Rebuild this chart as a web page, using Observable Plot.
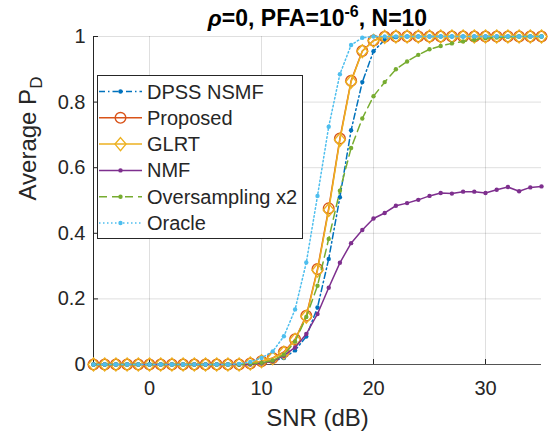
<!DOCTYPE html>
<html><head><meta charset="utf-8">
<script src="https://cdn.jsdelivr.net/npm/d3@7"></script>
<script src="https://cdn.jsdelivr.net/npm/@observablehq/plot@0.6"></script>
<style>html,body{margin:0;padding:0;background:#fff} svg{display:block}</style>
</head><body><div id="chart"></div>
<script>
// ---------- data ----------
const snr = [-5,-4,-3,-2,-1,0,1,2,3,4,5,6,7,8,9,10,11,12,13,14,15,16,17,18,19,20,21,22,23,24,25,26,27,28,29,30,31,32,33,34,35];
const dpssNsmf = [0,0,0,0,0,0,0,0,0,0,0,0,0,0, 0.001,0.004,0.01,0.02,0.043,0.085,0.174,0.322,0.51,0.714,0.861,0.955,0.99,0.998, 1,1,1,1,1,1,1,1,1,1,1,1,1];
const proposed = [0,0,0,0,0,0,0,0,0,0,0,0,0,0, 0.003,0.01,0.02,0.038,0.077,0.149,0.291,0.476,0.689,0.865,0.956,0.988,0.999, 1,1,1,1,1,1,1,1,1,1,1,1,1,1];
const glrt = [0,0,0,0,0,0,0,0,0,0,0,0,0,0, 0.003,0.01,0.019,0.036,0.075,0.146,0.287,0.471,0.685,0.862,0.955,0.987,0.999, 1,1,1,1,1,1,1,1,1,1,1,1,1,1];
const nmf = [0,0,0,0,0,0,0,0,0,0,0,0,0,0,0, 0.004,0.01,0.027,0.052,0.093,0.154,0.234,0.31,0.37,0.41,0.445,0.462,0.484,0.492,0.502,0.514,0.523,0.521,0.527,0.527,0.523,0.533,0.541,0.528,0.54,0.543];
const oversampling = [0,0,0,0,0,0,0,0,0,0,0,0,0,0, 0.002,0.005,0.012,0.03,0.07,0.145,0.24,0.383,0.53,0.66,0.75,0.818,0.861,0.9,0.924,0.944,0.961,0.971,0.979,0.985,0.99,0.995,0.997,0.999,1,1,1];
const oracle = [0,0,0,0,0,0,0,0,0,0,0,0,0, 0.002,0.008,0.02,0.04,0.086,0.168,0.311,0.514,0.725,0.885,0.974,0.996, 1,1,1,1,1,1,1,1,1,1,1,1,1,1,1,1];

const seriesNames = ["DPSS NSMF","Proposed","GLRT","NMF","Oversampling x2","Oracle"];
const seriesColors = ["#0072BD","#D95319","#EDB120","#7E2F8E","#77AC30","#4DBEEE"];
const seriesValues = [dpssNsmf, proposed, glrt, nmf, oversampling, oracle];
const seriesDash = ["6,3,1.5,3", null, null, null, "8,5", "1.5,2.5"];
const seriesMarker = ["dot","circle","diamond","dot","dot","dot"];

const xTicks = [0,10,20,30];
const xTickLabels = ["0","10","20","30"];
const yTicks = [0,0.2,0.4,0.6,0.8,1];
const yTickLabels = ["0","0.2","0.4","0.6","0.8","1"];

const titleParts = ["ρ", "=0, PFA=10", "-6", ", N=10"];
const xLabel = "SNR (dB)";
const yLabelParts = ["Average P", "D"];

// ---------- layout ----------
const W = 553, H = 433;
const mL = 93, mR = 12, mT = 36, mB = 69;
const plotW = W - mL - mR, plotH = H - mT - mB;
const ink = "#262626";
const font = "'Liberation Sans', Arial, Helvetica, sans-serif";

const tallDiamond = {
  draw(ctx, size) {
    const r = Math.sqrt(size / Math.PI);
    const w = r, h = r * 1.18;
    ctx.moveTo(0, -h); ctx.lineTo(w, 0); ctx.lineTo(0, h); ctx.lineTo(-w, 0); ctx.closePath();
  }
};

const tables = seriesValues.map((vals, si) => snr.map((s, i) => ({snr: s, pd: vals[i], name: seriesNames[si]})));

const marks = [
  Plot.gridX(xTicks, {stroke: ink, strokeOpacity: 0.15, strokeWidth: 1}),
  Plot.gridY(yTicks, {stroke: ink, strokeOpacity: 0.15, strokeWidth: 1}),
  Plot.ruleY([0], {stroke: ink, strokeOpacity: 0.75}),
  Plot.ruleX([-5], {stroke: ink}),
  Plot.tickX(xTicks, {x: d => d, stroke: ink, insetTop: plotH - 5}),
  Plot.tickY(yTicks, {y: d => d, stroke: ink, insetRight: plotW - 5}),
  Plot.text(xTicks, {x: d => d, text: (d, i) => xTickLabels[i], frameAnchor: "bottom", dy: 30, lineAnchor: "bottom", fontSize: 20, fill: ink}),
  Plot.text(yTicks, {y: d => d, text: (d, i) => yTickLabels[i], frameAnchor: "left", dx: -8, textAnchor: "end", fontSize: 20, fill: ink})
];

tables.forEach((t, si) => {
  const c = seriesColors[si];
  marks.push(Plot.line(t, {x: "snr", y: "pd", stroke: c, strokeWidth: 1.5, strokeDasharray: seriesDash[si] || undefined}));
  const m = seriesMarker[si];
  if (m === "circle") marks.push(Plot.dot(t, {x: "snr", y: "pd", r: 5.3, stroke: c, strokeWidth: 1.4, fill: "none"}));
  else if (m === "diamond") marks.push(Plot.dot(t, {x: "snr", y: "pd", r: 5.5, symbol: tallDiamond, stroke: c, strokeWidth: 1.4, fill: "none"}));
  else marks.push(Plot.dot(t, {x: "snr", y: "pd", r: 2.2, fill: c, stroke: "none"}));
});

// title & axis labels (text anchored to frame)
marks.push(Plot.text([titleParts.join("")], {frameAnchor: "top", dy: -11, lineAnchor: "bottom", fontSize: 23, fontWeight: "bold", fill: "#000"}));
marks.push(Plot.text([xLabel], {frameAnchor: "bottom", dy: 61, lineAnchor: "bottom", fontSize: 24, fill: ink}));
marks.push(Plot.text([yLabelParts.join("")], {frameAnchor: "left", dx: -58, rotate: -90, lineAnchor: "bottom", fontSize: 24, fill: ink}));

const chart = Plot.plot({
  width: W, height: H,
  marginLeft: mL, marginRight: mR, marginTop: mT, marginBottom: mB,
  x: {domain: [-5, 35], axis: null},
  y: {domain: [0, 1], axis: null},
  style: {fontFamily: font, background: "#fff", color: ink, overflow: "visible"},
  marks
});
document.getElementById("chart").appendChild(chart);

// ---------- rich text (superscript / subscript) ----------
const svg = d3.select(chart);
svg.selectAll("text").each(function() {
  const el = d3.select(this);
  const txt = this.textContent;
  if (txt === titleParts.join("")) {
    el.text(null);
    el.append("tspan").attr("font-style", "italic").text(titleParts[0]);
    el.append("tspan").text(titleParts[1]);
    el.append("tspan").attr("font-size", 16).attr("dy", -9).text(titleParts[2]);
    el.append("tspan").attr("dy", 9).text(titleParts[3]);
  } else if (txt === yLabelParts.join("")) {
    el.text(null);
    el.append("tspan").text(yLabelParts[0]);
    el.append("tspan").attr("font-size", 17).attr("dy", 6).text(yLabelParts[1]);
  }
});

// ---------- legend ----------
const lg = svg.append("g").attr("font-family", font).attr("font-size", 20).attr("fill", ink).attr("text-anchor", "start");
const lx = 97, ly = 75, lw = 205, lh = 163, rowH = 26.3, row0 = 91.5;
lg.append("rect").attr("x", lx + 0.5).attr("y", ly + 0.5).attr("width", lw).attr("height", lh)
  .attr("fill", "#fff").attr("stroke", ink).attr("stroke-width", 1);
seriesNames.forEach((name, si) => {
  const cy = row0 + si * rowH, c = seriesColors[si];
  lg.append("line").attr("x1", 99).attr("x2", 142).attr("y1", cy).attr("y2", cy)
    .attr("stroke", c).attr("stroke-width", 1.5).attr("stroke-dasharray", seriesDash[si]);
  const m = seriesMarker[si];
  if (m === "circle") lg.append("circle").attr("cx", 120.5).attr("cy", cy).attr("r", 5.3).attr("fill", "none").attr("stroke", c).attr("stroke-width", 1.4);
  else if (m === "diamond") lg.append("path").attr("d", `M120.5,${cy-6.5}L126,${cy}L120.5,${cy+6.5}L115,${cy}Z`).attr("fill", "none").attr("stroke", c).attr("stroke-width", 1.4);
  else lg.append("circle").attr("cx", 120.5).attr("cy", cy).attr("r", 2.2).attr("fill", c);
  lg.append("text").attr("x", 147).attr("y", cy + 7).attr("text-anchor", "start").text(name);
});
</script>
</body></html>
